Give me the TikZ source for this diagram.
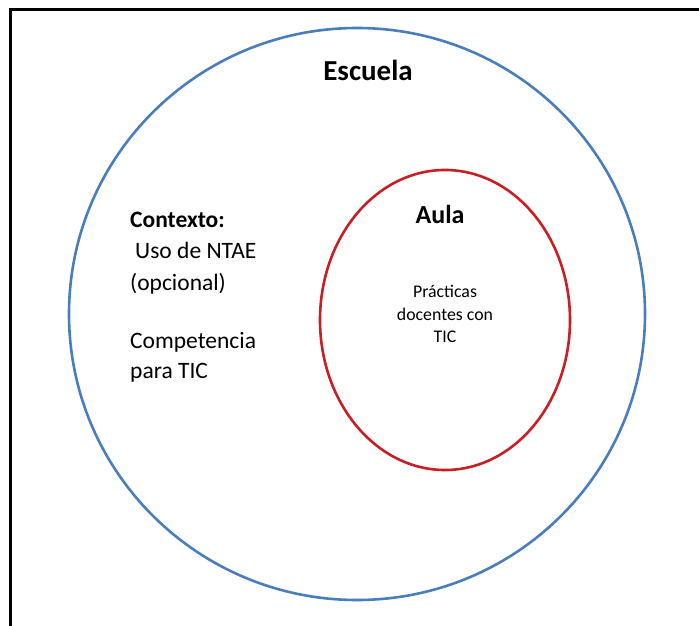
\documentclass[tikz,border=0pt]{standalone}
\usepackage{fontspec}
\setmainfont{Carlito}
\definecolor{escblue}{RGB}{74,126,187}
\definecolor{aulared}{RGB}{200,30,36}
\begin{document}
\begin{tikzpicture}[x=1pt,y=-1pt,
  frame/.style={line width=3pt,black},
  ring/.style={line width=2.6pt},
  bigtitle/.style={font=\fontsize{29}{35}\selectfont\bfseries,anchor=base,inner sep=0pt},
  midtitle/.style={font=\fontsize{26}{31}\selectfont\bfseries,anchor=base,inner sep=0pt},
  ctxbold/.style={font=\fontsize{23.5}{31}\selectfont\bfseries,anchor=base west,inner sep=0pt},
  ctxtext/.style={font=\fontsize{23.5}{31}\selectfont,anchor=base west,inner sep=0pt},
  smalltext/.style={font=\fontsize{17.8}{22}\selectfont,anchor=base,inner sep=0pt}]
\useasboundingbox[fill=white] (0,0) rectangle (699,626);
\draw[frame] (699,10) -- (10,10) -- (10,626);
\coordinate (escuelac) at (357,314);
\coordinate (aulac) at (445,320);
\draw[ring,escblue] (escuelac) ellipse [x radius=288, y radius=286];
\draw[ring,aulared] (aulac) ellipse [x radius=125, y radius=150];
\node[bigtitle] (escuela) at (368,81) {Escuela};
\node[midtitle] (aula) at (440,223) {Aula};
\node[smalltext] (p1) at (445,297) {Prácticas};
\node[smalltext] (p2) at (445,320) {docentes con};
\node[smalltext] (p3) at (445,342) {TIC};
\node[ctxbold] (c1) at (130,227) {Contexto:};
\node[ctxtext] (c2) at (135,258) {Uso de NTAE};
\node[ctxtext] (c3) at (130,290) {(opcional)};
\node[ctxtext] (c4) at (130,348) {Competencia};
\node[ctxtext] (c5) at (130,378) {para TIC};
\end{tikzpicture}
\end{document}
